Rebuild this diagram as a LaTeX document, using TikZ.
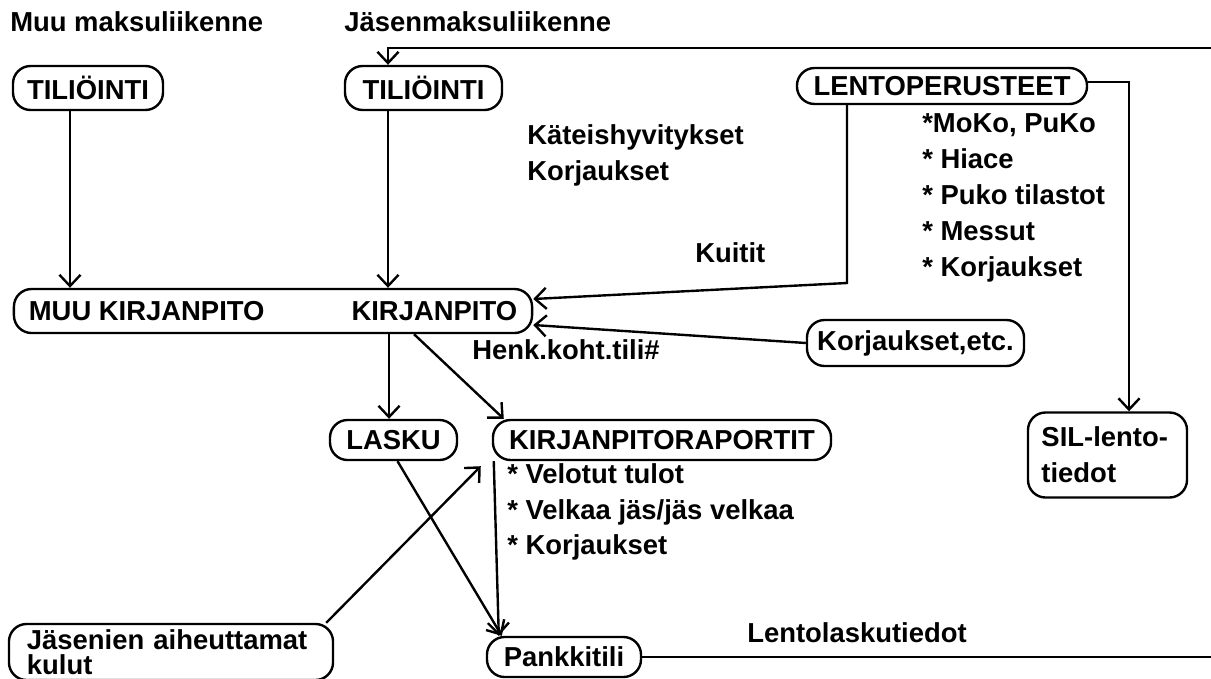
\documentclass[tikz,border=0pt]{standalone}
\usepackage{fontspec}
\setmainfont{Liberation Sans}
\usetikzlibrary{arrows.meta, calc}
\tikzset{
    block/.style={draw, line width=1.7pt, rounded corners=0.44cm, inner sep=0pt, font=\bfseries},
    flow/.style={-{Straight Barb[length=8pt, width=15pt]}, line width=1.7pt},
    txt/.style={anchor=west, inner sep=0pt, font=\bfseries, align=left}
}
\begin{document}
\fontsize{19.5}{25.5}\selectfont
\begin{tikzpicture}[x=0.025cm, y=-0.025cm]
    \useasboundingbox (0,0) rectangle (1211,678);
    % otsikot ja tekstit
    \node[txt] (hmuu) at (10,22) {Muu maksuliikenne};
    \node[txt] (hjasen) at (344,22) {Jäsenmaksuliikenne};
    \node[txt] (kateis) at (527,155.5) {Käteishyvitykset\\Korjaukset};
    \node[txt] (lentolista) at (922,198) {*MoKo, PuKo\\* Hiace\\* Puko tilastot\\* Messut\\* Korjaukset};
    \node[txt] (kuitit) at (695,253) {Kuitit};
    \node[txt] (henk) at (472,350) {Henk.koht.tili\#};
    \node[txt] (kprlista) at (507,512) {* Velotut tulot\\* Velkaa jäs/jäs velkaa\\* Korjaukset};
    \node[txt] (lentolasku) at (747,633) {Lentolaskutiedot};
    % laatikot
    \node[block, minimum width=3.75cm, minimum height=1.1cm] (til1) at (88,88) {TILIÖINTI};
    \node[block, minimum width=3.925cm, minimum height=1.1cm] (til2) at (423.5,88) {TILIÖINTI};
    \node[block, minimum width=7.25cm, minimum height=0.9cm] (lento) at (942,86) {LENTOPERUSTEET};
    \node[block, minimum width=12.95cm, minimum height=1.1cm] (kp) at (273,311) {MUU KIRJANPITO\hspace{2.175cm}KIRJANPITO};
    \node[block, minimum width=5.425cm, minimum height=1.15cm] (korj) at (915.5,343) {Korjaukset,etc.};
    \node[block, minimum width=3.175cm, minimum height=1.0cm] (lasku) at (393.5,440) {LASKU};
    \node[block, minimum width=8.45cm, minimum height=1.0cm] (kpr) at (662,440) {KIRJANPITORAPORTIT};
    \node[block, minimum width=3.975cm, minimum height=2.125cm, text width=3.3cm, align=left] (sil) at (1107.5,455) {\mbox{SIL-lento-}\\tiedot};
    \node[block, minimum width=3.85cm, minimum height=1.0cm] (pankki) at (564,657) {Pankkitili};
    \node[block, minimum width=8.1cm, minimum height=1.4cm, text width=7.2cm, align=left,
          font=\bfseries\fontsize{19.5}{17.7}\selectfont] (kulut) at (171,652) {Jäsenien aiheuttamat\\kulut};
    % reitit
    \coordinate (ylaoik) at (1212,48);
    \coordinate (alaoik) at (1212,657);
    \coordinate (ylavas) at (388,48);
    \coordinate (kulma) at (847,283);
    \draw[flow] ([xshift=-0.45cm]til1.south) -- ([xshift=-0.45cm]til1.south |- kp.north);
    \draw[flow] ([xshift=-0.8875cm]til2.south) -- ([xshift=-0.8875cm]til2.south |- kp.north);
    \draw[flow] (pankki.east) -- (alaoik) -- (ylaoik) -- (ylavas) -- (ylavas |- til2.north);
    \draw[flow] ([yshift=0.1cm]lento.east) -| ([xshift=0.5375cm]sil.north);
    \draw[flow] (lento.south -| kulma) -- (kulma) -- ([yshift=0.3cm]kp.east);
    \draw[flow] (korj.west) -- ([yshift=-0.35cm]kp.east);
    \draw[flow] ([xshift=2.9cm]kp.south) -- ([xshift=2.9cm]kp.south |- lasku.north);
    \draw[flow] ([xshift=3.525cm]kp.south) -- ([xshift=0.3cm]kpr.north west);
    \draw[flow] ([xshift=0.05cm]kpr.south west) -- ([xshift=0.325cm]pankki.north west);
    \draw[flow] ([xshift=0.1cm]lasku.south) -- ([xshift=0.4cm]pankki.north west);
    \draw[flow] ([xshift=-0.2cm]kulut.north east) -- ([xshift=-0.275cm,yshift=-0.125cm]kpr.south west);
\end{tikzpicture}
\end{document}
